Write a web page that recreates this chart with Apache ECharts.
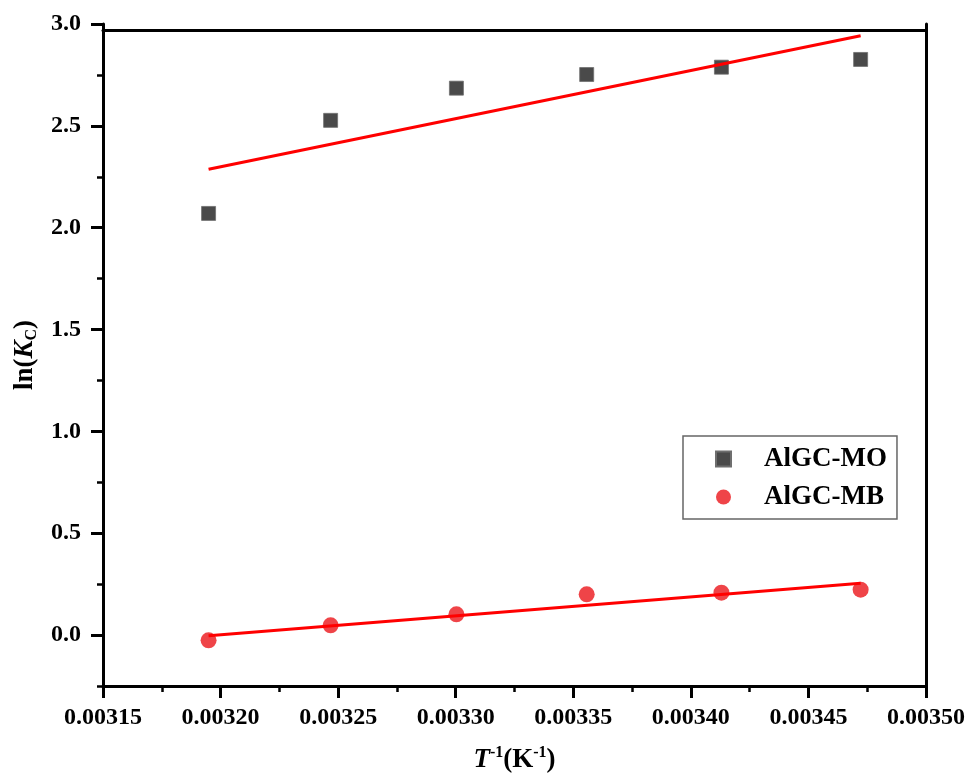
<!DOCTYPE html>
<html>
<head>
<meta charset="utf-8">
<script src="https://cdn.jsdelivr.net/npm/echarts@6/dist/echarts.min.js"></script>
<style>
  html, body { margin: 0; padding: 0; background: #fff; }
  #chart { width: 970px; height: 776px; }
</style>
</head>
<body>
<div id="chart"></div>
<script>
// Inverse temperature (1/K) for 313, 308, 303, 298, 293, 288 K
const invT = [0.0031949, 0.0032468, 0.0033003, 0.0033557, 0.0034130, 0.0034722];
// ln(Kc) values for each adsorbate
const lnKcMO = [2.070, 2.527, 2.685, 2.752, 2.788, 2.826];
const lnKcMB = [-0.026, 0.048, 0.102, 0.200, 0.208, 0.223];
// Linear-fit end points
const fitX = [0.0031949, 0.0034722];
const fitMO = [2.287, 2.942];
const fitMB = [-0.003, 0.255];
// Y axis tick positions
const yMajorTicks = [0, 0.5, 1.0, 1.5, 2.0, 2.5, 3.0];
const yMinorTicks = [-0.25, 0.25, 0.75, 1.25, 1.75, 2.25, 2.75];
const seriesNames = ['AlGC-MO', 'AlGC-MB'];

const FONT = '"Liberation Serif", "Times New Roman", serif';
const pair = (xs, ys) => xs.map((x, i) => [x, ys[i]]);

const chart = echarts.init(document.getElementById('chart'));
chart.setOption({
  animation: false,
  backgroundColor: '#ffffff',
  grid: { left: 103, right: 44, top: 24, bottom: 90, containLabel: false, outerBoundsMode: 'none' },
  legend: {
    left: 683, top: 436,
    orient: 'vertical',
    data: [
      { name: seriesNames[0], icon: 'rect' },
      { name: seriesNames[1], icon: 'circle' }
    ],
    itemWidth: 15, itemHeight: 15,
    itemGap: 8,
    padding: [8, 10, 7, 32],
    borderColor: '#666', borderWidth: 1.5,
    textStyle: {
      fontFamily: FONT, fontWeight: 'bold', fontSize: 27, color: '#000',
      lineHeight: 30, padding: [0, 0, 0, 28]
    }
  },
  xAxis: [{
    type: 'value',
    min: 0.00315, max: 0.0035, interval: 0.00005,
    position: 'bottom',
    name: '{i|T}{sup|-1}{n|(K}{sup|-1}{n|)}',
    nameLocation: 'middle', nameGap: 59,
    nameTextStyle: {
      rich: {
        i: { fontFamily: FONT, fontWeight: 'bold', fontStyle: 'italic', fontSize: 27, color: '#000' },
        n: { fontFamily: FONT, fontWeight: 'bold', fontSize: 27, color: '#000' },
        sup: { fontFamily: FONT, fontWeight: 'bold', fontSize: 16, color: '#000', verticalAlign: 'top', lineHeight: 30 }
      }
    },
    axisLine: { show: true, onZero: false, lineStyle: { color: '#000', width: 3 } },
    axisTick: { show: true, inside: false, length: 12, lineStyle: { color: '#000', width: 3 } },
    minorTick: { show: true, splitNumber: 2, length: 6, lineStyle: { color: '#000', width: 2.5 } },
    axisLabel: {
      fontFamily: FONT, fontWeight: 'bold', fontSize: 24, color: '#000', margin: 20,
      formatter: v => v.toFixed(5)
    },
    splitLine: { show: false }
  }, {
    type: 'value',
    min: 0.00315, max: 0.0035,
    position: 'top', offset: -6,
    axisLine: { show: true, onZero: false, lineStyle: { color: '#000', width: 3 } },
    axisTick: { show: false }, axisLabel: { show: false }, splitLine: { show: false }
  }],
  yAxis: [{
    type: 'value',
    min: -0.25, max: 3.0,
    position: 'left',
    name: '{n|ln(}{i|K}{sub|C}{n|)}',
    nameLocation: 'middle', nameGap: 63, nameRotate: 90,
    nameTextStyle: {
      rich: {
        i: { fontFamily: FONT, fontWeight: 'bold', fontStyle: 'italic', fontSize: 27, color: '#000' },
        n: { fontFamily: FONT, fontWeight: 'bold', fontSize: 27, color: '#000' },
        sub: { fontFamily: FONT, fontWeight: 'bold', fontSize: 16, color: '#000', verticalAlign: 'bottom', lineHeight: 30 }
      }
    },
    axisLine: { show: true, onZero: false, lineStyle: { color: '#000', width: 3 } },
    axisTick: { show: true, inside: false, length: 12, customValues: yMajorTicks, lineStyle: { color: '#000', width: 3 } },
    axisLabel: {
      fontFamily: FONT, fontWeight: 'bold', fontSize: 24, color: '#000', margin: 22,
      customValues: yMajorTicks,
      formatter: v => v.toFixed(1)
    },
    splitLine: { show: false }
  }, {
    type: 'value',
    min: -0.25, max: 3.0,
    position: 'left',
    axisLine: { show: false, onZero: false },
    axisTick: { show: true, inside: false, length: 6, customValues: yMinorTicks, lineStyle: { color: '#000', width: 2.5 } },
    axisLabel: { show: false },
    splitLine: { show: false }
  }, {
    type: 'value',
    min: -0.25, max: 3.0,
    position: 'right',
    axisLine: { show: true, onZero: false, lineStyle: { color: '#000', width: 3 } },
    axisTick: { show: false }, axisLabel: { show: false }, splitLine: { show: false }
  }],
  series: [{
    name: seriesNames[0],
    type: 'scatter',
    symbol: 'rect', symbolSize: 14,
    itemStyle: { color: '#4a4a4a', borderColor: '#6e6e6e', borderWidth: 0.8, opacity: 1 },
    data: pair(invT, lnKcMO),
    z: 3
  }, {
    name: seriesNames[1],
    type: 'scatter',
    symbol: 'circle', symbolSize: 16,
    itemStyle: { color: '#ee3a3e', opacity: 0.95 },
    data: pair(invT, lnKcMB),
    z: 3
  }, {
    name: 'fitMO',
    type: 'line',
    showSymbol: false, symbol: 'none',
    lineStyle: { color: '#ff0000', width: 3 },
    data: pair(fitX, fitMO),
    z: 4
  }, {
    name: 'fitMB',
    type: 'line',
    showSymbol: false, symbol: 'none',
    lineStyle: { color: '#ff0000', width: 3 },
    data: pair(fitX, fitMB),
    z: 4
  }]
});
</script>
</body>
</html>
